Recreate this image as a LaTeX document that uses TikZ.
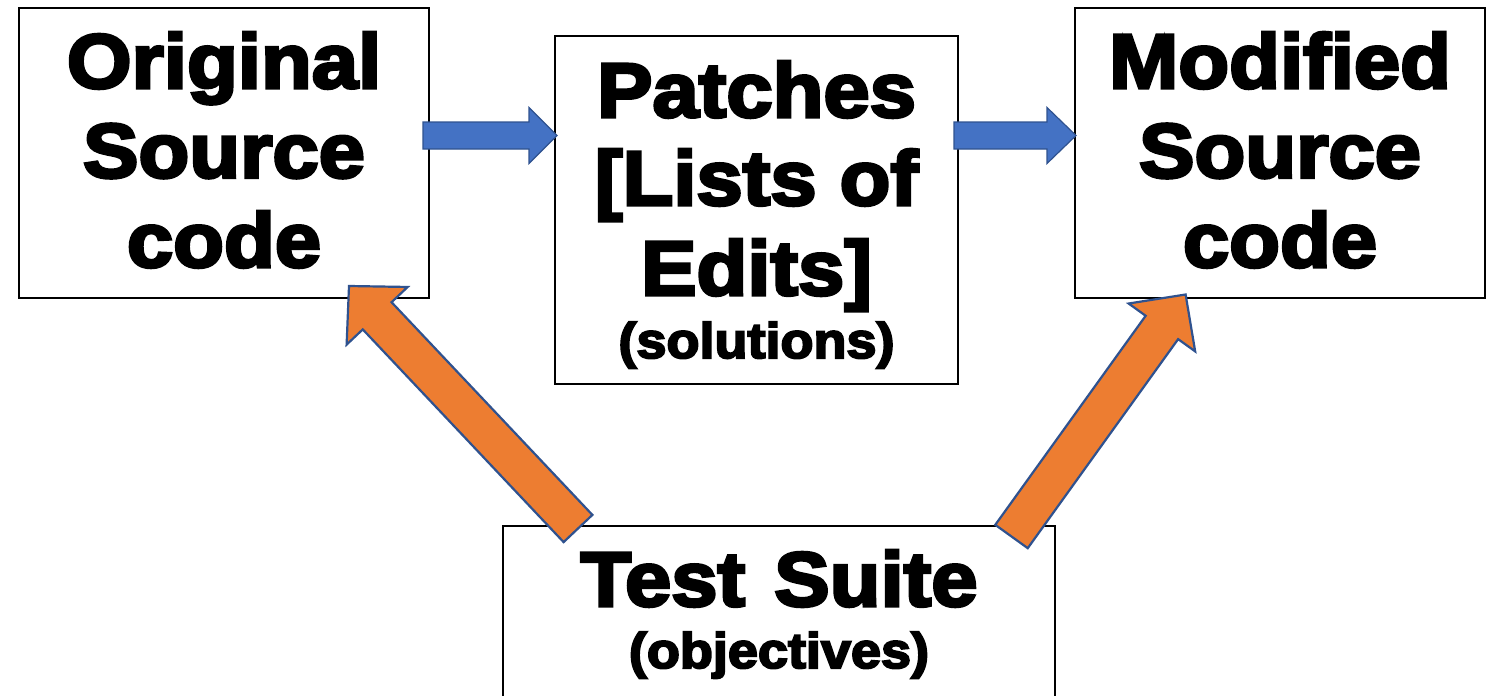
\documentclass[tikz,border=0pt]{standalone}
\usepackage{fontspec}
\usetikzlibrary{calc}

% heavy sans for all labels
\newfontfamily\heavy{Liberation Sans}[FakeStretch=1.08, BoldFeatures={FakeBold=4}]

\definecolor{flowblue}{HTML}{4472C4}
\definecolor{edgeblue}{HTML}{2F528F}
\definecolor{testorange}{HTML}{ED7D31}

% block arrow from tail #1 to tip #2:
% #3 half shaft width, #4 half head width, #5 head length, #6 style
\newcommand\blockarrow[6]{%
  \coordinate (#1-#2-base) at ($(#2)!#5!(#1)$);
  \filldraw[#6]
    ($(#1)!#3!90:(#2)$) --
    ($(#1-#2-base)!#3!90:(#2)$) --
    ($(#1-#2-base)!#4!90:(#2)$) --
    (#2) --
    ($(#1-#2-base)!#4!-90:(#2)$) --
    ($(#1-#2-base)!#3!-90:(#2)$) --
    ($(#1)!#3!-90:(#2)$) -- cycle;
}

\tikzset{
  box/.style={draw=black, line width=0.7pt, fill=white, inner sep=0pt},
  big/.style={font=\heavy\bfseries\fontsize{38.5}{44}\selectfont, anchor=base, inner sep=0pt},
  small/.style={font=\heavy\bfseries\fontsize{25}{28}\selectfont, anchor=base, inner sep=0pt},
  flowarrow/.style={fill=flowblue, draw=edgeblue, line width=0.6pt, line join=miter},
  testarrow/.style={fill=testorange, draw=edgeblue, line width=1.1pt, line join=miter},
}

\begin{document}
\begin{tikzpicture}[x=0.5pt, y=-0.5pt]
\useasboundingbox (0,0) rectangle (1494,696);

% boxes
\node[box, minimum width=205pt, minimum height=145pt] (orig) at (224,153) {};
\node[box, minimum width=201.5pt, minimum height=174pt] (patch) at (756.5,210) {};
\node[box, minimum width=205pt, minimum height=145pt] (mod) at (1280,153) {};
\node[box, minimum width=276pt, minimum height=102pt] (test) at (779,628) {};

% labels
\node[big] (orig1) at (224,88) {Original};
\node[big] (orig2) at (224,177.5) {Source};
\node[big] (orig3) at (224,267) {code};

\node[big] (patch1) at (756.5,117) {Patches};
\node[big] (patch2) at (756.5,205) {[Lists of};
\node[big] (patch3) at (756.5,295) {Edits]};
\node[small] (patch4) at (756.5,358) {(solutions)};

\node[big] (mod1) at (1280,88) {Modified};
\node[big] (mod2) at (1280,177.5) {Source};
\node[big] (mod3) at (1280,267) {code};

\node[big] (test1) at (779,606) {Test\ \hspace{3pt}Suite};
\node[small] (test2) at (779,668) {(objectives)};

% arrow end points
\coordinate (o-out) at (423,135.5);
\coordinate (p-in) at (557,135.5);
\coordinate (p-out) at (954,135.5);
\coordinate (m-in) at (1076,135.5);
\coordinate (t-left) at (578,528.5);
\coordinate (o-in) at (349,286);
\coordinate (t-right) at (1011.5,536.5);
\coordinate (m-in2) at (1185.6,294.5);

% flow arrows
\blockarrow{o-out}{p-in}{6.75pt}{14pt}{14pt}{flowarrow}
\blockarrow{p-out}{m-in}{6.75pt}{14pt}{14.5pt}{flowarrow}

% test suite arrows
\blockarrow{t-left}{o-in}{9.9pt}{21pt}{20.5pt}{testarrow}
\blockarrow{t-right}{m-in2}{10pt}{20.5pt}{20.3pt}{testarrow}
\end{tikzpicture}
\end{document}
